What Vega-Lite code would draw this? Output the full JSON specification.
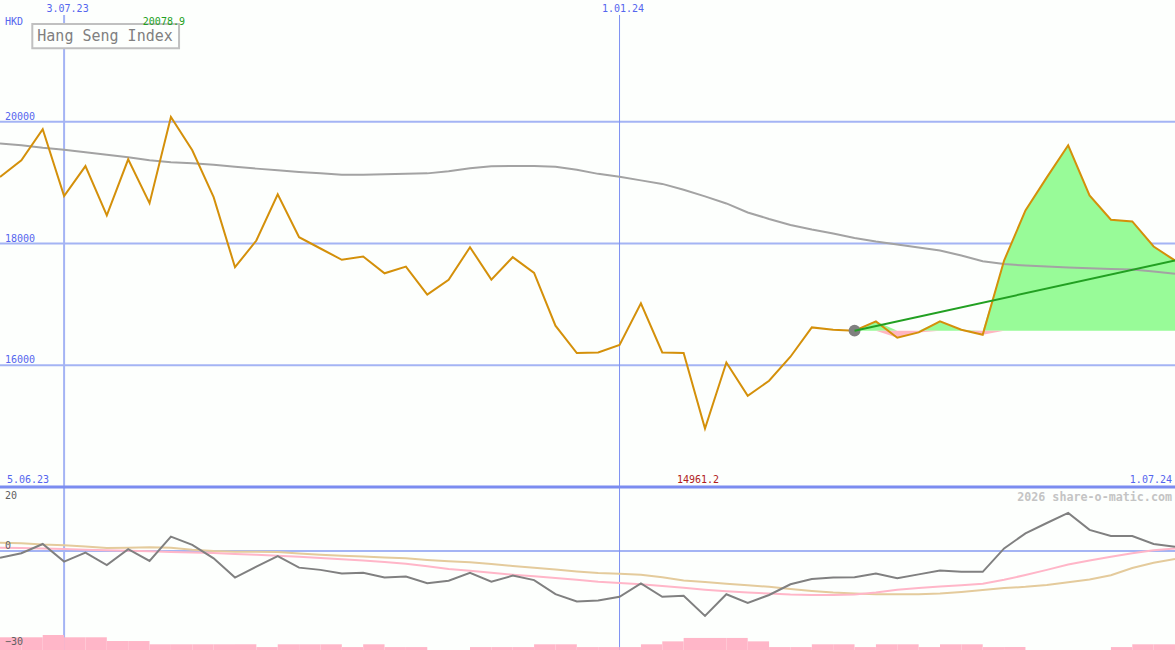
{
  "$schema": "https://vega.github.io/schema/vega-lite/v6.json",
  "background": "#fdfffd",
  "padding": 0,
  "spacing": 0,
  "bounds": "flush",
  "config": {
    "view": {"stroke": null},
    "concat": {"spacing": 0},
    "axis": {"disable": true},
    "text": {"font": "DejaVu Sans Mono", "fontSize": 10}
  },
  "datasets": {
    "w": [
      {"d": "2023-06-12", "p": 19091, "ma": 19641, "o": -2.1, "m1": 1.0, "m2": 2.6, "v": 78, "d2": "2023-06-19"},
      {"d": "2023-06-19", "p": 19366, "ma": 19613, "o": -0.7, "m1": 0.9, "m2": 2.4, "v": 78, "d2": "2023-06-26"},
      {"d": "2023-06-26", "p": 19876, "ma": 19572, "o": 2.2, "m1": 0.8, "m2": 2.0, "v": 92, "d2": "2023-07-03"},
      {"d": "2023-07-03", "p": 18779, "ma": 19539, "o": -3.3, "m1": 0.6, "m2": 1.8, "v": 78, "d2": "2023-07-10"},
      {"d": "2023-07-10", "p": 19272, "ma": 19498, "o": -0.5, "m1": 0.4, "m2": 1.4, "v": 78, "d2": "2023-07-17"},
      {"d": "2023-07-17", "p": 18461, "ma": 19457, "o": -4.4, "m1": 0.2, "m2": 0.9, "v": 55, "d2": "2023-07-24"},
      {"d": "2023-07-24", "p": 19383, "ma": 19416, "o": 0.6, "m1": 0.1, "m2": 1.0, "v": 55, "d2": "2023-07-31"},
      {"d": "2023-07-31", "p": 18663, "ma": 19366, "o": -3.1, "m1": -0.1, "m2": 1.15, "v": 35, "d2": "2023-08-07"},
      {"d": "2023-08-07", "p": 20078.9, "ma": 19333, "o": 4.5, "m1": -0.3, "m2": 1.0, "v": 35, "d2": "2023-08-14"},
      {"d": "2023-08-14", "p": 19531, "ma": 19317, "o": 1.9, "m1": -0.45, "m2": 0.4, "v": 35, "d2": "2023-08-21"},
      {"d": "2023-08-21", "p": 18762, "ma": 19292, "o": -2.3, "m1": -0.6, "m2": 0.0, "v": 35, "d2": "2023-08-28"},
      {"d": "2023-08-28", "p": 17610, "ma": 19259, "o": -8.3, "m1": -0.9, "m2": -0.2, "v": 35, "d2": "2023-09-04"},
      {"d": "2023-09-04", "p": 18049, "ma": 19230, "o": -4.9, "m1": -1.2, "m2": -0.2, "v": 18, "d2": "2023-09-11"},
      {"d": "2023-09-11", "p": 18807, "ma": 19202, "o": -1.6, "m1": -1.5, "m2": -0.3, "v": 35, "d2": "2023-09-18"},
      {"d": "2023-09-18", "p": 18104, "ma": 19174, "o": -5.2, "m1": -1.8, "m2": -0.8, "v": 35, "d2": "2023-09-25"},
      {"d": "2023-09-25", "p": 17918, "ma": 19152, "o": -5.9, "m1": -2.2, "m2": -1.2, "v": 35, "d2": "2023-10-02"},
      {"d": "2023-10-02", "p": 17732, "ma": 19131, "o": -7.0, "m1": -2.6, "m2": -1.5, "v": 18, "d2": "2023-10-09"},
      {"d": "2023-10-09", "p": 17786, "ma": 19131, "o": -6.8, "m1": -3.0, "m2": -1.7, "v": 35, "d2": "2023-10-16"},
      {"d": "2023-10-16", "p": 17511, "ma": 19136, "o": -8.3, "m1": -3.4, "m2": -2.0, "v": 18, "d2": "2023-10-23"},
      {"d": "2023-10-23", "p": 17621, "ma": 19144, "o": -8.0, "m1": -4.0, "m2": -2.3, "v": 18, "d2": "2023-10-30"},
      {"d": "2023-10-30", "p": 17160, "ma": 19152, "o": -10.1, "m1": -4.8, "m2": -2.8, "v": 0, "d2": "2023-11-06"},
      {"d": "2023-11-06", "p": 17402, "ma": 19185, "o": -9.3, "m1": -5.6, "m2": -3.2, "v": 0, "d2": "2023-11-13"},
      {"d": "2023-11-13", "p": 17939, "ma": 19235, "o": -6.8, "m1": -6.2, "m2": -3.5, "v": 18, "d2": "2023-11-20"},
      {"d": "2023-11-20", "p": 17407, "ma": 19268, "o": -9.6, "m1": -6.8, "m2": -4.1, "v": 18, "d2": "2023-11-27"},
      {"d": "2023-11-27", "p": 17775, "ma": 19272, "o": -7.7, "m1": -7.4, "m2": -4.7, "v": 18, "d2": "2023-12-04"},
      {"d": "2023-12-04", "p": 17518, "ma": 19272, "o": -9.1, "m1": -7.9, "m2": -5.2, "v": 35, "d2": "2023-12-11"},
      {"d": "2023-12-11", "p": 16650, "ma": 19259, "o": -13.5, "m1": -8.4, "m2": -5.8, "v": 35, "d2": "2023-12-18"},
      {"d": "2023-12-18", "p": 16201, "ma": 19210, "o": -15.8, "m1": -9.0, "m2": -6.4, "v": 18, "d2": "2023-12-25"},
      {"d": "2023-12-25", "p": 16210, "ma": 19144, "o": -15.5, "m1": -9.6, "m2": -6.9, "v": 18, "d2": "2024-01-01"},
      {"d": "2024-01-01", "p": 16332, "ma": 19095, "o": -14.3, "m1": -10.0, "m2": -7.1, "v": 18, "d2": "2024-01-08"},
      {"d": "2024-01-08", "p": 17017, "ma": 19037, "o": -10.1, "m1": -10.4, "m2": -7.4, "v": 35, "d2": "2024-01-15"},
      {"d": "2024-01-15", "p": 16211, "ma": 18979, "o": -14.3, "m1": -10.9, "m2": -8.2, "v": 53, "d2": "2024-01-22"},
      {"d": "2024-01-22", "p": 16200, "ma": 18884, "o": -14.0, "m1": -11.5, "m2": -9.2, "v": 74, "d2": "2024-01-29"},
      {"d": "2024-01-29", "p": 14961.2, "ma": 18774, "o": -20.3, "m1": -12.1, "m2": -9.7, "v": 74, "d2": "2024-02-05"},
      {"d": "2024-02-05", "p": 16046, "ma": 18658, "o": -13.5, "m1": -12.6, "m2": -10.2, "v": 74, "d2": "2024-02-12"},
      {"d": "2024-02-12", "p": 15498, "ma": 18510, "o": -16.2, "m1": -13.0, "m2": -10.7, "v": 53, "d2": "2024-02-19"},
      {"d": "2024-02-19", "p": 15745, "ma": 18403, "o": -13.75, "m1": -13.3, "m2": -11.2, "v": 18, "d2": "2024-02-26"},
      {"d": "2024-02-26", "p": 16140, "ma": 18305, "o": -10.4, "m1": -13.6, "m2": -11.9, "v": 18, "d2": "2024-03-04"},
      {"d": "2024-03-04", "p": 16622, "ma": 18230, "o": -8.75, "m1": -13.75, "m2": -12.5, "v": 35, "d2": "2024-03-11"},
      {"d": "2024-03-11", "p": 16584, "ma": 18165, "o": -8.3, "m1": -13.75, "m2": -13.0, "v": 35, "d2": "2024-03-18"},
      {"d": "2024-03-18", "p": 16568, "ma": 18090, "o": -8.2, "m1": -13.6, "m2": -13.3, "v": 18, "d2": "2024-03-25"},
      {"d": "2024-03-25", "p": 16721, "ma": 18033, "o": -7.0, "m1": -13.0, "m2": -13.5, "v": 35, "d2": "2024-04-01"},
      {"d": "2024-04-01", "p": 16453, "ma": 17984, "o": -8.5, "m1": -12.1, "m2": -13.5, "v": 35, "d2": "2024-04-08"},
      {"d": "2024-04-08", "p": 16540, "ma": 17934, "o": -7.3, "m1": -11.6, "m2": -13.5, "v": 18, "d2": "2024-04-15"},
      {"d": "2024-04-15", "p": 16721, "ma": 17885, "o": -6.1, "m1": -11.1, "m2": -13.3, "v": 35, "d2": "2024-04-22"},
      {"d": "2024-04-22", "p": 16584, "ma": 17802, "o": -6.5, "m1": -10.7, "m2": -12.8, "v": 35, "d2": "2024-04-29"},
      {"d": "2024-04-29", "p": 16502, "ma": 17709, "o": -6.5, "m1": -10.2, "m2": -12.2, "v": 18, "d2": "2024-05-06"},
      {"d": "2024-05-06", "p": 17720, "ma": 17662, "o": 0.8, "m1": -9.0, "m2": -11.6, "v": 18, "d2": "2024-05-13"},
      {"d": "2024-05-13", "p": 18543, "ma": 17638, "o": 5.5, "m1": -7.5, "m2": -11.2, "v": 0, "d2": "2024-05-20"},
      {"d": "2024-05-20", "p": 19086, "ma": 17621, "o": 8.75, "m1": -5.9, "m2": -10.6, "v": 0, "d2": "2024-05-27"},
      {"d": "2024-05-27", "p": 19613, "ma": 17605, "o": 11.9, "m1": -4.2, "m2": -9.8, "v": 0, "d2": "2024-06-03"},
      {"d": "2024-06-03", "p": 18790, "ma": 17593, "o": 6.6, "m1": -3.0, "m2": -8.9, "v": 0, "d2": "2024-06-10"},
      {"d": "2024-06-10", "p": 18390, "ma": 17583, "o": 4.7, "m1": -1.8, "m2": -7.6, "v": 18, "d2": "2024-06-17"},
      {"d": "2024-06-17", "p": 18362, "ma": 17572, "o": 4.7, "m1": -0.7, "m2": -5.3, "v": 35, "d2": "2024-06-24"},
      {"d": "2024-06-24", "p": 17951, "ma": 17539, "o": 2.2, "m1": 0.2, "m2": -3.7, "v": 35, "d2": "2024-07-01"},
      {"d": "2024-07-01", "p": 17720, "ma": 17501, "o": 1.3, "m1": 0.8, "m2": -2.5, "v": 0, "d2": "2024-07-01"}
    ],
    "fill": [
      {"d": "2024-03-18", "top": 16568, "bot": 16568, "b": 16568},
      {"d": "2024-03-25", "top": 16721, "bot": 16568, "b": 16568},
      {"d": "2024-04-01", "top": 16568, "bot": 16453, "b": 16568},
      {"d": "2024-04-08", "top": 16568, "bot": 16540, "b": 16568},
      {"d": "2024-04-15", "top": 16721, "bot": 16568, "b": 16568},
      {"d": "2024-04-22", "top": 16584, "bot": 16568, "b": 16568},
      {"d": "2024-04-29", "top": 16568, "bot": 16502, "b": 16568},
      {"d": "2024-05-06", "top": 17720, "bot": 16568, "b": 16568},
      {"d": "2024-05-13", "top": 18543, "bot": 16568, "b": 16568},
      {"d": "2024-05-20", "top": 19086, "bot": 16568, "b": 16568},
      {"d": "2024-05-27", "top": 19613, "bot": 16568, "b": 16568},
      {"d": "2024-06-03", "top": 18790, "bot": 16568, "b": 16568},
      {"d": "2024-06-10", "top": 18390, "bot": 16568, "b": 16568},
      {"d": "2024-06-17", "top": 18362, "bot": 16568, "b": 16568},
      {"d": "2024-06-24", "top": 17951, "bot": 16568, "b": 16568},
      {"d": "2024-07-01", "top": 17720, "bot": 16568, "b": 16568}
    ],
    "trend": [
      {"d": "2024-03-18", "p": 16568},
      {"d": "2024-07-01", "p": 17720}
    ],
    "dot": [{"d": "2024-03-18", "p": 16568}],
    "vl": [
      {"d": "2023-07-03", "lbl": "3.07.23"},
      {"d": "2024-01-01", "lbl": "1.01.24"}
    ],
    "ygrid": [{"v": 16000}, {"v": 18000}, {"v": 20000}],
    "ext": [
      {"d": "2023-08-07", "v": 20078.9, "k": "max"},
      {"d": "2024-01-29", "v": 14961.2, "k": "min"}
    ],
    "lowlbl": [{"v": 0}, {"v": -30}]
  },
  "vconcat": [
    {
      "width": 1175,
      "height": 487,
      "layer": [
        {
          "data": {"name": "ygrid"},
          "mark": {"type": "rule", "color": "#a4b4f4", "strokeWidth": 2, "clip": true},
          "encoding": {
            "y": {"field": "v", "type": "quantitative", "scale": {"domain": [14000, 22000], "nice": false, "zero": false}, "axis": null}
          }
        },
        {
          "data": {"name": "vl"},
          "transform": [{"filter": "datum.lbl == '3.07.23'"}],
          "mark": {"type": "rule", "color": "#a4b4f4", "strokeWidth": 2, "clip": true},
          "encoding": {
            "x": {"field": "d", "type": "temporal", "scale": {"type": "utc", "domain": [{"year": 2023, "month": 6, "date": 12, "utc": true}, {"year": 2024, "month": 7, "date": 1, "utc": true}]}, "axis": null},
            "y": {"datum": 21754, "type": "quantitative", "axis": null},
            "y2": {"datum": 14000}
          }
        },
        {
          "data": {"name": "vl"},
          "transform": [{"filter": "datum.lbl == '1.01.24'"}],
          "mark": {"type": "rule", "color": "#7d90f2", "strokeWidth": 1, "clip": true},
          "encoding": {
            "x": {"field": "d", "type": "temporal", "axis": null},
            "y": {"datum": 21754, "type": "quantitative", "axis": null},
            "y2": {"datum": 14000}
          }
        },
        {
          "data": {"values": [{}]},
          "mark": {"type": "rule", "color": "#7b8cf0", "strokeWidth": 3, "clip": true},
          "encoding": {
            "y": {"datum": 14000, "type": "quantitative", "axis": null}
          }
        },
        {
          "data": {"name": "fill"},
          "mark": {"type": "area", "color": "#98fb98", "opacity": 1, "clip": true},
          "encoding": {
            "x": {"field": "d", "type": "temporal", "axis": null},
            "y": {"field": "top", "type": "quantitative", "axis": null},
            "y2": {"field": "b"}
          }
        },
        {
          "data": {"name": "fill"},
          "mark": {"type": "area", "color": "#ffb6c1", "opacity": 1, "clip": true},
          "encoding": {
            "x": {"field": "d", "type": "temporal", "axis": null},
            "y": {"field": "bot", "type": "quantitative", "axis": null},
            "y2": {"field": "b"}
          }
        },
        {
          "data": {"name": "w"},
          "mark": {"type": "line", "color": "#a3a3a3", "strokeWidth": 2, "clip": true},
          "encoding": {
            "x": {"field": "d", "type": "temporal", "axis": null},
            "y": {"field": "ma", "type": "quantitative", "axis": null}
          }
        },
        {
          "data": {"name": "w"},
          "mark": {"type": "line", "color": "#d4900a", "strokeWidth": 2, "clip": true},
          "encoding": {
            "x": {"field": "d", "type": "temporal", "axis": null},
            "y": {"field": "p", "type": "quantitative", "axis": null}
          }
        },
        {
          "data": {"name": "dot"},
          "mark": {"type": "circle", "color": "#808080", "opacity": 1, "size": 140},
          "encoding": {
            "x": {"field": "d", "type": "temporal", "axis": null},
            "y": {"field": "p", "type": "quantitative", "axis": null}
          }
        },
        {
          "data": {"name": "trend"},
          "mark": {"type": "line", "color": "#22a022", "strokeWidth": 2, "clip": true},
          "encoding": {
            "x": {"field": "d", "type": "temporal", "axis": null},
            "y": {"field": "p", "type": "quantitative", "axis": null}
          }
        },
        {
          "data": {"values": [{}]},
          "mark": {"type": "rect", "fill": "#fdfffd", "stroke": "#c0c0c0", "strokeWidth": 2, "clip": true},
          "encoding": {
            "x": {"datum": {"year": 2023, "month": 6, "date": 22, "hours": 14, "utc": true}, "type": "temporal", "axis": null},
            "x2": {"datum": {"year": 2023, "month": 8, "date": 9, "hours": 16, "utc": true}},
            "y": {"datum": 21606, "type": "quantitative", "axis": null},
            "y2": {"datum": 21207}
          }
        },
        {
          "data": {"values": [{}]},
          "mark": {"type": "text", "text": "Hang Seng Index", "align": "left", "baseline": "alphabetic", "dx": 5, "fontSize": 15, "color": "#808080"},
          "encoding": {
            "x": {"datum": {"year": 2023, "month": 6, "date": 22, "hours": 14, "utc": true}, "type": "temporal", "axis": null},
            "y": {"datum": 21322, "type": "quantitative", "axis": null}
          }
        },
        {
          "data": {"name": "ygrid"},
          "mark": {"type": "text", "align": "left", "baseline": "alphabetic", "dx": 5, "dy": -2, "color": "#5566ee"},
          "encoding": {
            "x": {"datum": {"year": 2023, "month": 6, "date": 12, "utc": true}, "type": "temporal", "axis": null},
            "y": {"field": "v", "type": "quantitative", "axis": null},
            "text": {"field": "v", "type": "quantitative", "format": "d"}
          }
        },
        {
          "data": {"name": "vl"},
          "mark": {"type": "text", "align": "center", "baseline": "alphabetic", "dx": 3.5, "dy": 12, "color": "#5566ee"},
          "encoding": {
            "x": {"field": "d", "type": "temporal", "axis": null},
            "y": {"datum": 22000, "type": "quantitative", "axis": null},
            "text": {"field": "lbl"}
          }
        },
        {
          "data": {"values": [{}]},
          "mark": {"type": "text", "text": "HKD", "align": "left", "baseline": "alphabetic", "dx": 5, "dy": 25, "color": "#5566ee"},
          "encoding": {
            "x": {"datum": {"year": 2023, "month": 6, "date": 12, "utc": true}, "type": "temporal", "axis": null},
            "y": {"datum": 22000, "type": "quantitative", "axis": null}
          }
        },
        {
          "data": {"name": "ext"},
          "transform": [{"filter": "datum.k == 'max'"}],
          "mark": {"type": "text", "align": "center", "baseline": "alphabetic", "dx": -7, "dy": 24.5, "color": "#22a022"},
          "encoding": {
            "x": {"field": "d", "type": "temporal", "axis": null},
            "y": {"datum": 22000, "type": "quantitative", "axis": null},
            "text": {"field": "v", "type": "quantitative", "format": ".1f"}
          }
        },
        {
          "data": {"name": "ext"},
          "transform": [{"filter": "datum.k == 'min'"}],
          "mark": {"type": "text", "align": "center", "baseline": "alphabetic", "dx": -7, "dy": -4.5, "color": "#b01c1c"},
          "encoding": {
            "x": {"field": "d", "type": "temporal", "axis": null},
            "y": {"datum": 14000, "type": "quantitative", "axis": null},
            "text": {"field": "v", "type": "quantitative", "format": ".1f"}
          }
        },
        {
          "data": {"values": [{}]},
          "mark": {"type": "text", "text": "5.06.23", "align": "left", "baseline": "alphabetic", "dx": 7, "dy": -4.5, "color": "#5566ee"},
          "encoding": {
            "x": {"datum": {"year": 2023, "month": 6, "date": 12, "utc": true}, "type": "temporal", "axis": null},
            "y": {"datum": 14000, "type": "quantitative", "axis": null}
          }
        },
        {
          "data": {"values": [{}]},
          "mark": {"type": "text", "text": "1.07.24", "align": "right", "baseline": "alphabetic", "dx": -3, "dy": -4.5, "color": "#5566ee"},
          "encoding": {
            "x": {"datum": {"year": 2024, "month": 7, "date": 1, "utc": true}, "type": "temporal", "axis": null},
            "y": {"datum": 14000, "type": "quantitative", "axis": null}
          }
        }
      ]
    },
    {
      "width": 1175,
      "height": 163,
      "resolve": {"scale": {"y": "independent"}},
      "layer": [
        {
          "layer": [
            {
              "mark": {"type": "rule", "color": "#a4b4f4", "strokeWidth": 2, "clip": true},
              "data": {"values": [{}]},
              "encoding": {
                "y": {"datum": 0, "type": "quantitative", "scale": {"domain": [-30.9375, 20], "nice": false, "zero": false}, "axis": null}
              }
            },
            {
              "data": {"name": "vl"},
              "transform": [{"filter": "datum.lbl == '3.07.23'"}],
              "mark": {"type": "rule", "color": "#a4b4f4", "strokeWidth": 2, "clip": true},
              "encoding": {
                "x": {"field": "d", "type": "temporal", "scale": {"type": "utc", "domain": [{"year": 2023, "month": 6, "date": 12, "utc": true}, {"year": 2024, "month": 7, "date": 1, "utc": true}]}, "axis": null}
              }
            },
            {
              "data": {"name": "vl"},
              "transform": [{"filter": "datum.lbl == '1.01.24'"}],
              "mark": {"type": "rule", "color": "#7d90f2", "strokeWidth": 1, "clip": true},
              "encoding": {
                "x": {"field": "d", "type": "temporal", "axis": null}
              }
            },
            {
              "mark": {"type": "rule", "color": "#7b8cf0", "strokeWidth": 3, "clip": true},
              "data": {"values": [{}]},
              "encoding": {
                "y": {"datum": 20, "type": "quantitative", "axis": null}
              }
            }
          ]
        },
        {
          "data": {"name": "w"},
          "mark": {"type": "rect", "color": "#ffb6c8", "clip": true},
          "encoding": {
            "x": {"field": "d", "type": "temporal", "axis": null},
            "x2": {"field": "d2"},
            "y": {"field": "v", "type": "quantitative", "scale": {"domain": [0, 1000], "nice": false}, "axis": null},
            "y2": {"datum": 0}
          }
        },
        {
          "layer": [
            {
              "data": {"name": "w"},
              "mark": {"type": "line", "color": "#e4cb9c", "strokeWidth": 2, "clip": true},
              "encoding": {
                "x": {"field": "d", "type": "temporal", "axis": null},
                "y": {"field": "m2", "type": "quantitative", "scale": {"domain": [-30.9375, 20], "nice": false, "zero": false}, "axis": null}
              }
            },
            {
              "data": {"name": "w"},
              "mark": {"type": "line", "color": "#ffb6c8", "strokeWidth": 2, "clip": true},
              "encoding": {
                "x": {"field": "d", "type": "temporal", "axis": null},
                "y": {"field": "m1", "type": "quantitative", "axis": null}
              }
            },
            {
              "data": {"name": "w"},
              "mark": {"type": "line", "color": "#808080", "strokeWidth": 2, "clip": true},
              "encoding": {
                "x": {"field": "d", "type": "temporal", "axis": null},
                "y": {"field": "o", "type": "quantitative", "axis": null}
              }
            },
            {
              "data": {"values": [{}]},
              "mark": {"type": "text", "text": "20", "align": "left", "baseline": "alphabetic", "dx": 5, "dy": 12, "color": "#606060"},
              "encoding": {
                "x": {"datum": {"year": 2023, "month": 6, "date": 12, "utc": true}, "type": "temporal", "axis": null},
                "y": {"datum": 20, "type": "quantitative", "axis": null}
              }
            },
            {
              "data": {"name": "lowlbl"},
              "mark": {"type": "text", "align": "left", "baseline": "alphabetic", "dx": 5, "dy": -2, "color": "#606060"},
              "encoding": {
                "x": {"datum": {"year": 2023, "month": 6, "date": 12, "utc": true}, "type": "temporal", "axis": null},
                "y": {"field": "v", "type": "quantitative", "axis": null},
                "text": {"field": "v", "type": "quantitative", "format": "d"}
              }
            },
            {
              "data": {"values": [{}]},
              "mark": {"type": "text", "text": "2026 share-o-matic.com", "align": "right", "baseline": "alphabetic", "dx": -3, "dy": 13.5, "fontSize": 11.7, "fontWeight": "bold", "color": "#c4c4c4"},
              "encoding": {
                "x": {"datum": {"year": 2024, "month": 7, "date": 1, "utc": true}, "type": "temporal", "axis": null},
                "y": {"datum": 20, "type": "quantitative", "axis": null}
              }
            }
          ]
        }
      ]
    }
  ]
}
